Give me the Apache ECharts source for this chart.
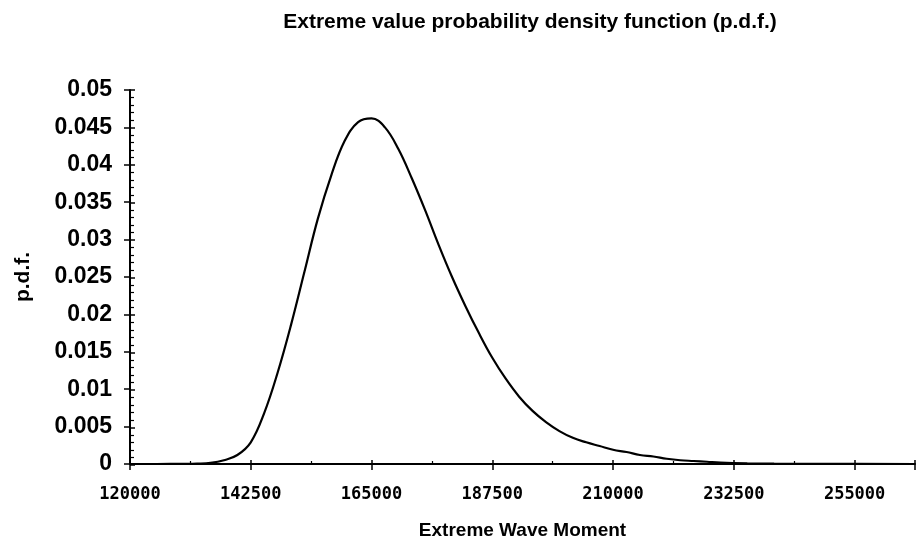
<!DOCTYPE html>
<html>
<head>
<meta charset="utf-8">
<script src="https://cdn.jsdelivr.net/npm/echarts@6/dist/echarts.min.js"></script>
<style>html,body{margin:0;padding:0;background:#fff;}#c{width:920px;height:545px;}</style>
</head>
<body>
<div id="c"></div>
<script>
const titleText = 'Extreme value probability density function (p.d.f.)';
const xName = 'Extreme Wave Moment';
const yName = 'p.d.f.';
const xMoment = [120000,125000,130000,132500,135000,137500,140000,142500,145000,147500,150000,152500,155000,157500,160000,162500,165000,167500,170000,172500,175000,177500,180000,182500,185000,187500,190000,192500,195000,197500,200000,202500,205000,207500,210000,212500,215000,217500,220000,222500,225000,227500,230000,235000,240000,250000,266250];
const pdfValues = [0,0,0.00002,0.00005,0.00015,0.0005,0.0012,0.0029,0.0068,0.0122,0.0186,0.0257,0.0328,0.0386,0.0432,0.0457,0.0462,0.0450,0.0421,0.0382,0.0339,0.0293,0.0250,0.0211,0.0175,0.0142,0.0114,0.0090,0.0071,0.0056,0.0044,0.0035,0.0029,0.0024,0.0019,0.0016,0.0012,0.0010,0.0007,0.0005,0.0004,0.0003,0.0002,0.0001,0.00005,0.00002,0];
const xMin = 120000, xMax = 266250, xStep = 22500;
const yMin = 0, yMax = 0.05, yStep = 0.005;

const seriesData = xMoment.map((x, i) => [x, pdfValues[i]]);
const gridBox = {left: 130, right: 5, top: 90, bottom: 80};
const sans = '"Liberation Sans", Arial, sans-serif';

const chart = echarts.init(document.getElementById('c'), null, {renderer: 'canvas'});
chart.setOption({
  backgroundColor: '#fff',
  animation: false,
  title: {
    text: titleText, left: 525, textAlign: 'center', top: 7,
    textStyle: {fontFamily: sans, fontWeight: 'bold', fontSize: 21, color: '#000'}
  },
  grid: [Object.assign({}, gridBox), Object.assign({}, gridBox)],
  xAxis: [{
    type: 'value', gridIndex: 0, min: xMin, max: xMax, interval: xStep,
    name: xName, nameLocation: 'middle', nameGap: 57,
    nameTextStyle: {fontFamily: sans, fontWeight: 'bold', fontSize: 19, color: '#000'},
    axisLine: {show: true, onZero: false, lineStyle: {color: '#000', width: 2}},
    axisTick: {show: true, inside: false, length: 6, lineStyle: {color: '#000', width: 1.5}},
    axisLabel: {
      margin: 22, color: '#000', fontFamily: '"DejaVu Sans Mono", monospace', fontWeight: 'bold', fontSize: 17,
      formatter: v => (v > 255000 ? '' : String(v)), showMaxLabel: true
    },
    splitLine: {show: false}
  }, {
    type: 'value', gridIndex: 1, min: xMin, max: xMax, interval: xStep,
    axisLine: {show: false},
    axisTick: {show: true, inside: true, length: 5, lineStyle: {color: '#000', width: 1.5}},
    minorTick: {show: true, splitNumber: 2, length: 4, lineStyle: {color: '#000', width: 1.2}},
    axisLabel: {show: false}, splitLine: {show: false}
  }],
  yAxis: [{
    type: 'value', gridIndex: 0, min: yMin, max: yMax, interval: yStep,
    name: yName, nameLocation: 'middle', nameGap: 96, nameRotate: 90,
    nameTextStyle: {fontFamily: sans, fontWeight: 'bold', fontSize: 21, color: '#000'},
    axisLine: {show: true, onZero: false, lineStyle: {color: '#000', width: 2}},
    axisTick: {show: true, inside: false, length: 6, lineStyle: {color: '#000', width: 1.5}},
    axisLabel: {margin: 18, color: '#000', fontFamily: sans, fontWeight: 'bold', fontSize: 23},
    splitLine: {show: false}
  }, {
    type: 'value', gridIndex: 1, min: yMin, max: yMax, interval: yStep,
    axisLine: {show: false},
    axisTick: {show: true, inside: true, length: 5, lineStyle: {color: '#000', width: 1.5}},
    minorTick: {show: true, splitNumber: 5, length: 4, lineStyle: {color: '#000', width: 1.2}},
    axisLabel: {show: false}, splitLine: {show: false}
  }],
  series: [{
    type: 'line', xAxisIndex: 0, yAxisIndex: 0, data: seriesData,
    smooth: 0.4, showSymbol: false, symbol: 'none',
    lineStyle: {color: '#000', width: 2.2}
  }]
});
</script>
</body>
</html>
